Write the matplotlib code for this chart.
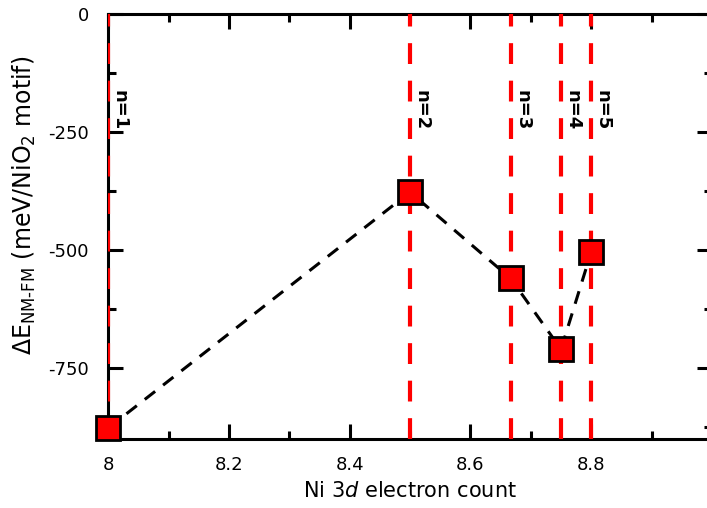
import matplotlib.pyplot as plt
from matplotlib.ticker import MultipleLocator

# Ni 3d electron count for n = 1..5 layered nickelates
d_count = [8.0, 8.5, 8.6667, 8.75, 8.8]
dE = [-877, -377, -560, -710, -504]
n_labels = ["n=1", "n=2", "n=3", "n=4", "n=5"]

plt.rcParams['font.family'] = ['DejaVu Sans']
plt.rcParams['axes.unicode_minus'] = False

fig = plt.figure(figsize=(7.07, 5.08), dpi=100)
ax = fig.add_axes([0.153, 0.136, 0.854, 0.836])

for x, lab in zip(d_count, n_labels):
    ax.axvline(x, color='red', lw=3, dashes=(5, 4), zorder=2.6)
    ax.text(x + 0.004, -160, lab, rotation=270, ha='left', va='top',
            fontsize=13, fontweight='bold', zorder=4)

ax.plot(d_count, dE, color='black', lw=2.2, dashes=(4.3, 3.3),
        marker='s', markersize=17, markerfacecolor='red',
        markeredgecolor='black', markeredgewidth=2, zorder=3, clip_on=False)

ax.set_xlim(8, 9)
ax.set_ylim(-900, 0)
ax.xaxis.set_minor_locator(MultipleLocator(0.1))
ax.yaxis.set_major_locator(MultipleLocator(250))
ax.yaxis.set_minor_locator(MultipleLocator(125))
ax.set_xticks([8, 8.2, 8.4, 8.6, 8.8, 9])
ax.set_xticklabels(['8', '8.2', '8.4', '8.6', '8.8', '9'])

ax.tick_params(which='both', direction='in', top=True, right=True,
               width=2.2, labelsize=13)
ax.tick_params(axis='x', pad=12)
ax.tick_params(axis='y', pad=14)
ax.tick_params(which='major', length=11)
ax.tick_params(which='minor', length=6)
for s in ax.spines.values():
    s.set_linewidth(2.2)

ax.set_xlabel('Ni $\\it{3d}$ electron count', fontsize=15, labelpad=5)
ax.set_ylabel('ΔE$_{\\mathrm{NM\\text{-}FM}}$ (meV/NiO$_2$ motif)', fontsize=17)
ax.yaxis.set_label_coords(-0.117, 0.55)

fig.savefig('out.png', dpi=100)
